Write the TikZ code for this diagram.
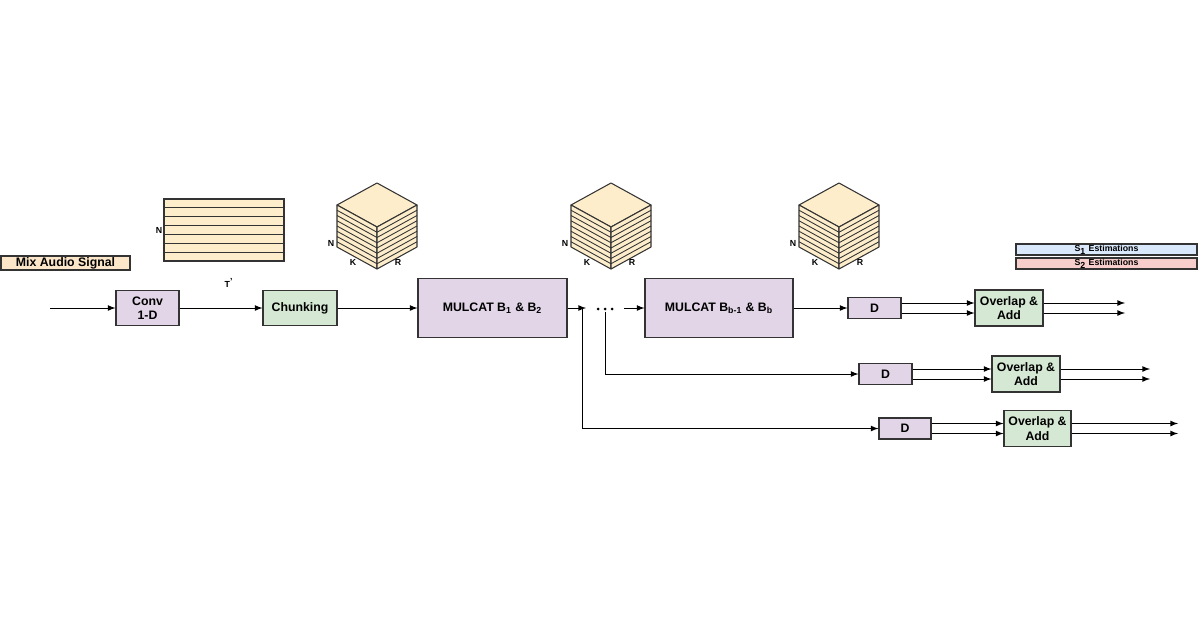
\documentclass[tikz,border=0pt]{standalone}
\usepackage{fontspec}
\setmainfont{Liberation Sans}
\usetikzlibrary{arrows,positioning}

\definecolor{cream}{HTML}{FDEDCB}
\definecolor{peach}{HTML}{FCE6C9}
\definecolor{lilac}{HTML}{E1D5E7}
\definecolor{mint}{HTML}{D5E8D4}
\definecolor{skyb}{HTML}{DAE8FC}
\definecolor{rose}{HTML}{F8CECC}
\definecolor{edge}{HTML}{333333}

\tikzset{
blk/.style={draw=edge, line width=0.6pt, align=center, inner sep=0pt,
  font=\fontsize{7}{8.2}\selectfont\bfseries},
tinylbl/.style={font=\fontsize{5}{6}\selectfont\bfseries, inner sep=0pt},
flow/.style={->, >=latex, line width=0.5pt, draw=black}
}

\begin{document}
\begin{tikzpicture}
\useasboundingbox (0,0) rectangle (24,12.6);

\node[blk, fill=peach, minimum width=2.58cm, minimum height=0.28cm] (mix) at (1.31,7.34) {Mix Audio Signal};

\fill[cream] (3.28,7.38) rectangle (5.68,8.62);
\foreach \i in {1,...,6} {
\draw[edge, line width=0.6pt] (3.28,7.38+\i*0.177) -- (5.68,7.38+\i*0.177);
}
\draw[edge, line width=0.6pt] (3.28,7.38) rectangle (5.68,8.62);
\node[tinylbl] (nrow) at (3.18,7.99) {N};
\node[tinylbl] (trow) at (4.58,6.94) {T\textsuperscript{'}};

\foreach \cx/\nm in {7.54/1,12.22/2,16.78/3} {
\filldraw[fill=cream, draw=edge, line width=0.6pt, line join=round]
  (\cx,8.06) -- (\cx-0.8,8.5) -- (\cx,8.94) -- (\cx+0.8,8.5) -- cycle;
\filldraw[fill=cream, draw=edge, line width=0.6pt, line join=round]
  (\cx-0.8,8.5) -- (\cx,8.06) -- (\cx,7.22) -- (\cx-0.8,7.66) -- cycle;
\filldraw[fill=cream, draw=edge, line width=0.6pt, line join=round]
  (\cx+0.8,8.5) -- (\cx,8.06) -- (\cx,7.22) -- (\cx+0.8,7.66) -- cycle;
\foreach \j in {1,...,7} {
\draw[edge, line width=0.5pt] (\cx-0.8,8.5-\j*0.105) -- (\cx,8.06-\j*0.105) -- (\cx+0.8,8.5-\j*0.105);
}
\node[tinylbl] (n\nm) at (\cx-0.92,7.74) {N};
\node[tinylbl] (k\nm) at (\cx-0.48,7.36) {K};
\node[tinylbl] (r\nm) at (\cx+0.42,7.36) {R};
}

\node[blk, fill=skyb, minimum width=3.62cm, minimum height=0.22cm, font=\fontsize{5}{6}\selectfont\bfseries] (leg1) at (22.13,7.61) {S\textsubscript{1} Estimations};
\node[blk, fill=rose, minimum width=3.62cm, minimum height=0.22cm, font=\fontsize{5}{6}\selectfont\bfseries] (leg2) at (22.13,7.33) {S\textsubscript{2} Estimations};

\node[blk, fill=lilac, minimum width=1.26cm, minimum height=0.7cm] (conv) at (2.95,6.44) {Conv\\1-D};
\node[blk, fill=mint, minimum width=1.48cm, minimum height=0.7cm] (chunk) at (6.0,6.44) {Chunking};
\node[blk, fill=lilac, minimum width=2.98cm, minimum height=1.18cm] (mc1) at (9.85,6.44) {MULCAT B\textsubscript{1} \& B\textsubscript{2}};
\node[blk, fill=lilac, minimum width=2.96cm, minimum height=1.18cm] (mc2) at (14.38,6.44) {MULCAT B\textsubscript{b-1} \& B\textsubscript{b}};

\node[blk, fill=lilac, minimum width=1.06cm, minimum height=0.42cm] (d1) at (17.49,6.44) {D};
\node[blk, fill=lilac, minimum width=1.06cm, minimum height=0.42cm] (d2) at (17.71,5.12) {D};
\node[blk, fill=lilac, minimum width=1.04cm, minimum height=0.42cm] (d3) at (18.10,4.03) {D};

\node[blk, fill=mint, minimum width=1.36cm, minimum height=0.72cm] (ola1) at (20.18,6.44) {Overlap \&\\Add};
\node[blk, fill=mint, minimum width=1.36cm, minimum height=0.72cm] (ola2) at (20.52,5.12) {Overlap \&\\Add};
\node[blk, fill=mint, minimum width=1.34cm, minimum height=0.72cm] (ola3) at (20.75,4.03) {Overlap \&\\Add};

\coordinate (src) at (1.0,6.44);
\coordinate (gapin) at (11.72,6.44);
\coordinate (gapout) at (12.48,6.44);
\coordinate (sp1) at (11.64,6.44);
\coordinate (sp2) at (12.1,6.36);
\coordinate (o1) at (22.5,6.44);
\coordinate (o2) at (23.0,5.12);
\coordinate (o3) at (23.56,4.03);

\foreach \x in {11.96,12.1,12.24} {
\fill (\x,6.42) circle (0.03);
}

\draw[flow] (src) -- (conv);
\draw[flow] (conv) -- (chunk);
\draw[flow] (chunk) -- (mc1);
\draw[flow] (mc1) -- (gapin);
\draw[flow] (gapout) -- (mc2);
\draw[flow] (mc2) -- (d1);
\draw[flow] (sp1) |- (d3);
\draw[flow] (sp2) |- (d2);

\foreach \k in {1,2,3} {
\draw[flow] ([yshift=1mm]d\k.east) -- ([yshift=1mm]ola\k.west);
\draw[flow] ([yshift=-1mm]d\k.east) -- ([yshift=-1mm]ola\k.west);
\draw[flow] ([yshift=1mm]ola\k.east) -- ([yshift=1mm]o\k);
\draw[flow] ([yshift=-1mm]ola\k.east) -- ([yshift=-1mm]o\k);
}
\end{tikzpicture}
\end{document}
